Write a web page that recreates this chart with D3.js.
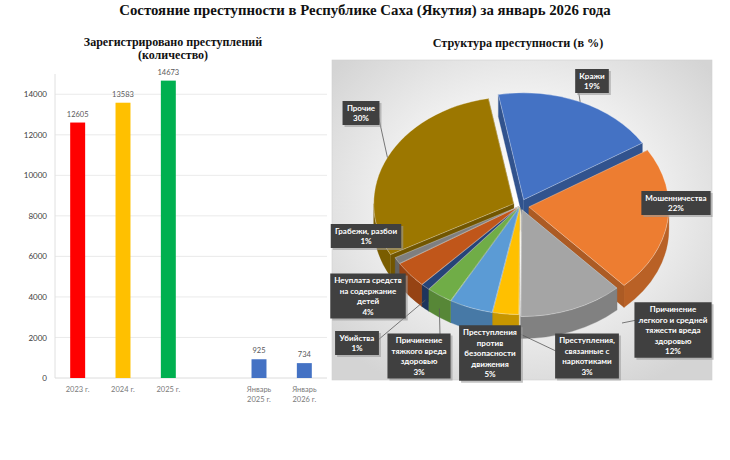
<!DOCTYPE html>
<html><head><meta charset="utf-8">
<script src="https://cdn.jsdelivr.net/npm/d3@7"></script>
<style>
html,body{margin:0;padding:0;background:#fff;}
svg{display:block;}
</style></head>
<body>
<svg id="chart" width="730" height="460"></svg>
<script>
// ---------- DATA ----------
const mainTitle = "Состояние преступности в Республике Саха (Якутия) за январь 2026 года";
const barTitle = ["Зарегистрировано преступлений", "(количество)"];
const pieTitle = "Структура преступности (в %)";

const barCategories = ["c2023", "c2024", "c2025", "gap", "cJan2025", "cJan2026"];
const barLabels = [["2023 г."], ["2024 г."], ["2025 г."], [], ["Январь", "2025 г."], ["Январь", "2026 г."]];
const barValues = [12605, 13583, 14673, null, 925, 734];
const barColors = ["#FF0000", "#FFC000", "#00B050", "#fff", "#4472C4", "#4472C4"];
const yTicks = [0, 2000, 4000, 6000, 8000, 10000, 12000, 14000];

const pieNames = [
  ["Кражи"],
  ["Мошенничества"],
  ["Причинение", "легкого и средней", "тяжести вреда", "здоровью"],
  ["Преступления,", "связанные с", "наркотиками"],
  ["Преступления", "против", "безопасности", "движения"],
  ["Причинение", "тяжкого вреда", "здоровью"],
  ["Убийства"],
  ["Неуплата средств", "на содержание", "детей"],
  ["Грабежи, разбои"],
  ["Прочие"]
];
const pieValues = [19, 22, 12, 3, 5, 3, 1, 4, 1, 30];
const pieColors = ["#4472C4", "#ED7D31", "#A5A5A5", "#FFC000", "#5B9BD5", "#70AD47", "#264478", "#C0561A", "#7F7F7F", "#9C7700"];

// ---------- LAYOUT ----------
const svg = d3.select("#chart");
const serif = "'Liberation Serif','DejaVu Serif',serif";
const sans = "Lato,'Open Sans',sans-serif";

svg.append("text").attr("x", 365).attr("y", 15).attr("text-anchor", "middle")
  .attr("font-family", serif).attr("font-weight", "bold").attr("font-size", 14.8)
  .attr("fill", "#111").text(mainTitle);

// ---- Bar chart ----
const bm = {left: 55, right: 327, top: 74, bottom: 378};
const x = d3.scaleBand().domain(barCategories).range([bm.left, bm.right]).paddingInner(0.67).paddingOuter(0.335);
const y = d3.scaleLinear().domain([0, 15000]).range([bm.bottom, bm.top]);

barTitle.forEach((t, i) => {
  svg.append("text").attr("x", 173).attr("y", 46 + i * 13).attr("text-anchor", "middle")
    .attr("font-family", serif).attr("font-weight", "bold").attr("font-size", 12)
    .attr("fill", "#111").text(t);
});

const gBar = svg.append("g");
gBar.append("g").selectAll("line").data(yTicks.filter(d => d > 0)).join("line")
  .attr("x1", bm.left).attr("x2", bm.right)
  .attr("y1", d => y(d)).attr("y2", d => y(d))
  .attr("stroke", "#e4e4e4").attr("stroke-width", 0.8);
const yAxis = d3.axisLeft(y).tickValues(yTicks).tickSize(0).tickPadding(8).tickFormat(d3.format("d"));
const ya = gBar.append("g").attr("transform", `translate(${bm.left},0)`).call(yAxis);
ya.select(".domain").attr("stroke", "#e0e0e0").attr("d", `M0,${bm.top}V${bm.bottom}`);
ya.selectAll("text").attr("font-family", sans).attr("font-size", 8).attr("fill", "#404040");
gBar.append("line").attr("x1", bm.left).attr("x2", bm.right).attr("y1", bm.bottom).attr("y2", bm.bottom)
  .attr("stroke", "#dcdcdc").attr("stroke-width", 1);

const barData = barCategories.map((c, i) => ({c, v: barValues[i], col: barColors[i], lab: barLabels[i]}));
gBar.append("g").selectAll("rect").data(barData.filter(d => d.v != null)).join("rect")
  .attr("x", d => x(d.c)).attr("width", x.bandwidth())
  .attr("y", d => y(d.v)).attr("height", d => y(0) - y(d.v))
  .attr("fill", d => d.col);
gBar.append("g").selectAll("text").data(barData.filter(d => d.v != null)).join("text")
  .attr("x", d => x(d.c) + x.bandwidth() / 2).attr("y", d => y(d.v) - 6)
  .attr("text-anchor", "middle").attr("font-family", sans).attr("font-size", 7.5)
  .attr("fill", "#595959").text(d => d.v);
const xl = gBar.append("g").selectAll("text").data(barData).join("text")
  .attr("x", d => x(d.c) + x.bandwidth() / 2).attr("y", 392)
  .attr("text-anchor", "middle").attr("font-family", sans).attr("font-size", 7.5).attr("fill", "#7a7a7a");
xl.selectAll("tspan").data(d => d.lab).join("tspan")
  .attr("x", function() { return d3.select(this.parentNode).attr("x"); })
  .attr("dy", (d, i) => i === 0 ? 0 : 10).text(d => d);

// ---- Pie chart ----
svg.append("text").attr("x", 518).attr("y", 47).attr("text-anchor", "middle")
  .attr("font-family", serif).attr("font-weight", "bold").attr("font-size", 12.2)
  .attr("fill", "#111").text(pieTitle);

const defs = svg.append("defs");
const rg = defs.append("radialGradient").attr("id", "bg").attr("cx", "50%").attr("cy", "45%").attr("r", "65%");
rg.append("stop").attr("offset", "0%").attr("stop-color", "#ffffff");
rg.append("stop").attr("offset", "55%").attr("stop-color", "#efefef");
rg.append("stop").attr("offset", "100%").attr("stop-color", "#d4d4d4");
svg.append("rect").attr("x", 332).attr("y", 60).attr("width", 380).attr("height", 320)
  .attr("fill", "url(#bg)").attr("stroke", "#d0d0d0").attr("stroke-width", 0.6);

const cx = 520, cy = 206, rx = 140, ry = 107, depth = 22;
const explode = [9, 9, 5, 2, 2, 2, 2, 2, 2, 7];
const startA = -10.4 * Math.PI / 180;
const pie = d3.pie().sort(null).startAngle(startA).endAngle(startA + 2 * Math.PI);
const arcs = pie(pieValues).map((a, i) => {
  const mid = (a.startAngle + a.endAngle) / 2;
  return {...a, i, mid, ox: explode[i] * Math.sin(mid), oy: -explode[i] * Math.cos(mid) * ry / rx};
});
const P = (a, ox, oy, dz = 0) => [cx + ox + rx * Math.sin(a), cy + oy - ry * Math.cos(a) + dz];

function topPath(d) {
  const c = [cx + d.ox, cy + d.oy];
  const p0 = P(d.startAngle, d.ox, d.oy), p1 = P(d.endAngle, d.ox, d.oy);
  const large = d.endAngle - d.startAngle > Math.PI ? 1 : 0;
  return `M${c}L${p0}A${rx},${ry} 0 ${large} 1 ${p1}Z`;
}
function outerWall(d) {
  const b0 = Math.max(d.startAngle, Math.PI / 2), b1 = Math.min(d.endAngle, 3 * Math.PI / 2);
  if (b1 <= b0) return null;
  const p0 = P(b0, d.ox, d.oy), p1 = P(b1, d.ox, d.oy);
  const q0 = P(b0, d.ox, d.oy, depth), q1 = P(b1, d.ox, d.oy, depth);
  const large = b1 - b0 > Math.PI ? 1 : 0;
  return `M${p0}A${rx},${ry} 0 ${large} 1 ${p1}L${q1}A${rx},${ry} 0 ${large} 0 ${q0}Z`;
}
function radialWall(d, a) {
  const c = [cx + d.ox, cy + d.oy], c2 = [cx + d.ox, cy + d.oy + depth];
  const p = P(a, d.ox, d.oy), q = P(a, d.ox, d.oy, depth);
  return `M${c}L${p}L${q}L${c2}Z`;
}
const walls = [];
arcs.forEach(d => {
  const dark = d3.color(pieColors[d.i]).darker(0.9).formatHex();
  [d.startAngle, d.endAngle].forEach(a => {
    walls.push({path: radialWall(d, a), z: -Math.cos(a) * 0.5, fill: dark});
  });
  const ow = outerWall(d);
  if (ow) walls.push({path: ow, z: 1 + (-Math.cos(d.mid)), fill: d3.color(pieColors[d.i]).darker(0.7).formatHex()});
});
walls.sort((a, b) => a.z - b.z);
const gPie = svg.append("g");
gPie.selectAll("path.wall").data(walls).join("path").attr("class", "wall")
  .attr("d", d => d.path).attr("fill", d => d.fill).attr("stroke", d => d.fill).attr("stroke-width", 0.3);
gPie.selectAll("path.top").data(arcs).join("path").attr("class", "top")
  .attr("d", topPath).attr("fill", d => pieColors[d.i])
  .attr("stroke", "rgba(255,255,255,0.55)").attr("stroke-width", 0.6);

const labelPos = [
  {x: 592, y: 81, lx: 578, ly: 88},
  {x: 676, y: 203},
  {x: 673, y: 330, lx: 637, ly: 320, tx: 622, ty: 323},
  {x: 587, y: 356, lx: 558, ly: 352},
  {x: 490, y: 353},
  {x: 419, y: 356, lx: 440, ly: 335},
  {x: 357, y: 343, lx: 378, ly: 340},
  {x: 368, y: 296},
  {x: 366, y: 236},
  {x: 361, y: 113, lx: 377, ly: 110}
];
const gLab = svg.append("g");
arcs.forEach(d => {
  const lp = labelPos[d.i];
  if (lp.lx == null) return;
  let t;
  if (lp.tx != null) t = [lp.tx, lp.ty];
  else {
    const front = Math.cos(d.mid) < 0;
    t = P(d.mid, d.ox, d.oy, front ? depth * 0.6 : 0);
  }
  gLab.append("line").attr("x1", lp.lx).attr("y1", lp.ly).attr("x2", t[0]).attr("y2", t[1])
    .attr("stroke", "#595959").attr("stroke-width", 0.8);
});
arcs.forEach(d => {
  const lp = labelPos[d.i];
  const lines = [...pieNames[d.i], pieValues[d.i] + "%"];
  const lh = 10.5;
  const g = gLab.append("g");
  const txt = g.append("text").attr("text-anchor", "middle").attr("font-family", sans)
    .attr("font-weight", "bold").attr("font-size", 8).attr("fill", "#fff");
  lines.forEach((l, k) => {
    txt.append("tspan").attr("x", lp.x).attr("y", lp.y - (lines.length - 1) * lh / 2 + k * lh + 3).text(l);
  });
  const bb = txt.node().getBBox();
  const w = bb.width + 8, h = lines.length * lh + 3;
  g.insert("rect", "text").attr("x", lp.x - w / 2 + 2).attr("y", lp.y - h / 2 + 2).attr("width", w).attr("height", h)
    .attr("fill", "#9a9a9a").attr("opacity", 0.6);
  g.insert("rect", "text").attr("x", lp.x - w / 2).attr("y", lp.y - h / 2).attr("width", w).attr("height", h)
    .attr("fill", "#404040");
});
</script>
</body></html>
